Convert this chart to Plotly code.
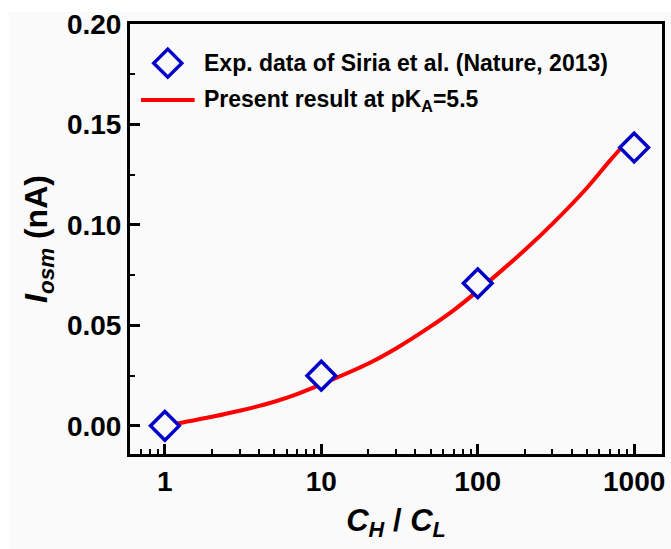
import plotly.graph_objects as go

# Experimental points (Siria et al., Nature 2013)
ratio_exp = [1, 10, 100, 1000]
iosm_exp = [0.0, 0.025, 0.071, 0.1385]

# Model curve at pKA = 5.5
ratio_fit = [1, 2, 3, 5, 7, 10, 20, 30, 50, 70, 100, 200, 300, 500, 700, 1000]
iosm_fit = [0.0, 0.0045, 0.0075, 0.0120, 0.0158, 0.0207, 0.0310, 0.0385, 0.0495,
            0.0575, 0.0672, 0.0875, 0.1005, 0.1185, 0.1320, 0.1455]

# Axis ticks
x_tickvals = [1, 10, 100, 1000]
x_ticktext = ["1", "10", "100", "1000"]
y_tickvals = [0.0, 0.05, 0.10, 0.15, 0.20]
y_ticktext = ["0.00", "0.05", "0.10", "0.15", "0.20"]

legend_labels = ["Exp. data of Siria et al. (Nature, 2013)",
                 "Present result at pK<sub>A</sub>=5.5"]

BG = "#fafafa"
BLUE = "#0000c8"
RED = "#ff0000"
FONT = "Liberation Sans"

fig = go.Figure()
fig.add_trace(go.Scatter(
    x=ratio_fit, y=iosm_fit, mode="lines", line_shape="spline",
    line=dict(color=RED, width=4), name=legend_labels[1], showlegend=False,
))
fig.add_trace(go.Scatter(
    x=ratio_exp, y=iosm_exp, mode="markers",
    marker=dict(symbol="diamond", size=22, color=BG,
                line=dict(color=BLUE, width=3.5)),
    name=legend_labels[0], showlegend=False,
))

# Hand-built legend (larger symbols than the built-in legend allows)
shapes = [
    # light-grey page background
    dict(type="rect", xref="paper", yref="paper", x0=-0.228, x1=1.02,
         y0=-0.23, y1=1.028, fillcolor=BG, line_width=0, layer="below"),
    # diamond symbol
    dict(type="path", xref="paper", yref="paper", xsizemode="pixel",
         ysizemode="pixel", xanchor=0.071, yanchor=0.909,
         path="M -14 0 L 0 14 L 14 0 L 0 -14 Z",
         line=dict(color=BLUE, width=3.5), fillcolor=BG),
    # line symbol
    dict(type="line", xref="paper", yref="paper", x0=0.0206, x1=0.1215,
         y0=0.823, y1=0.823, line=dict(color=RED, width=4)),
]
annotations = [
    dict(xref="paper", yref="paper", x=0.1346, y=0.909, xanchor="left",
         yanchor="middle", showarrow=False, text="<b>%s</b>" % legend_labels[0],
         font=dict(family=FONT, size=23, color="black")),
    dict(xref="paper", yref="paper", x=0.1346, y=0.823, xanchor="left",
         yanchor="middle", showarrow=False, text="<b>%s</b>" % legend_labels[1],
         font=dict(family=FONT, size=23, color="black")),
]

fig.update_layout(
    width=671, height=549,
    margin=dict(l=130, r=6, t=24, b=95),
    paper_bgcolor="white", plot_bgcolor=BG,
    font=dict(family=FONT, color="black"),
    shapes=shapes, annotations=annotations,
    showlegend=False,
)

fig.update_xaxes(
    type="log", range=[-0.223, 3.178],
    tickmode="array", tickvals=x_tickvals, ticktext=["<b>%s</b>" % t for t in x_ticktext],
    ticks="inside", ticklen=10, tickwidth=2.5, tickcolor="black",
    minor=dict(ticks="inside", ticklen=5, tickwidth=2, tickcolor="black", dtick="D1"),
    showline=True, linewidth=3, linecolor="black", mirror=True,
    showgrid=False, zeroline=False,
    tickfont=dict(family=FONT, size=28),
    title=dict(text="<b><i>C</i><sub><i>H</i></sub> / <i>C</i><sub><i>L</i></sub></b>",
               font=dict(family=FONT, size=31), standoff=14),
)
fig.update_yaxes(
    range=[-0.014, 0.2],
    tickmode="array", tickvals=y_tickvals, ticktext=["<b>%s</b>" % t for t in y_ticktext],
    ticks="inside", ticklen=10, tickwidth=2.5, tickcolor="black",
    minor=dict(ticks="inside", ticklen=5, tickwidth=2, tickcolor="black", dtick=0.025),
    showline=True, linewidth=3, linecolor="black", mirror=True,
    showgrid=False, zeroline=False,
    tickfont=dict(family=FONT, size=28),
    title=dict(text="<b><i>I</i><sub><i>osm</i></sub> (nA)</b>",
               font=dict(family=FONT, size=32), standoff=10),
)

fig.write_html("out.html")
